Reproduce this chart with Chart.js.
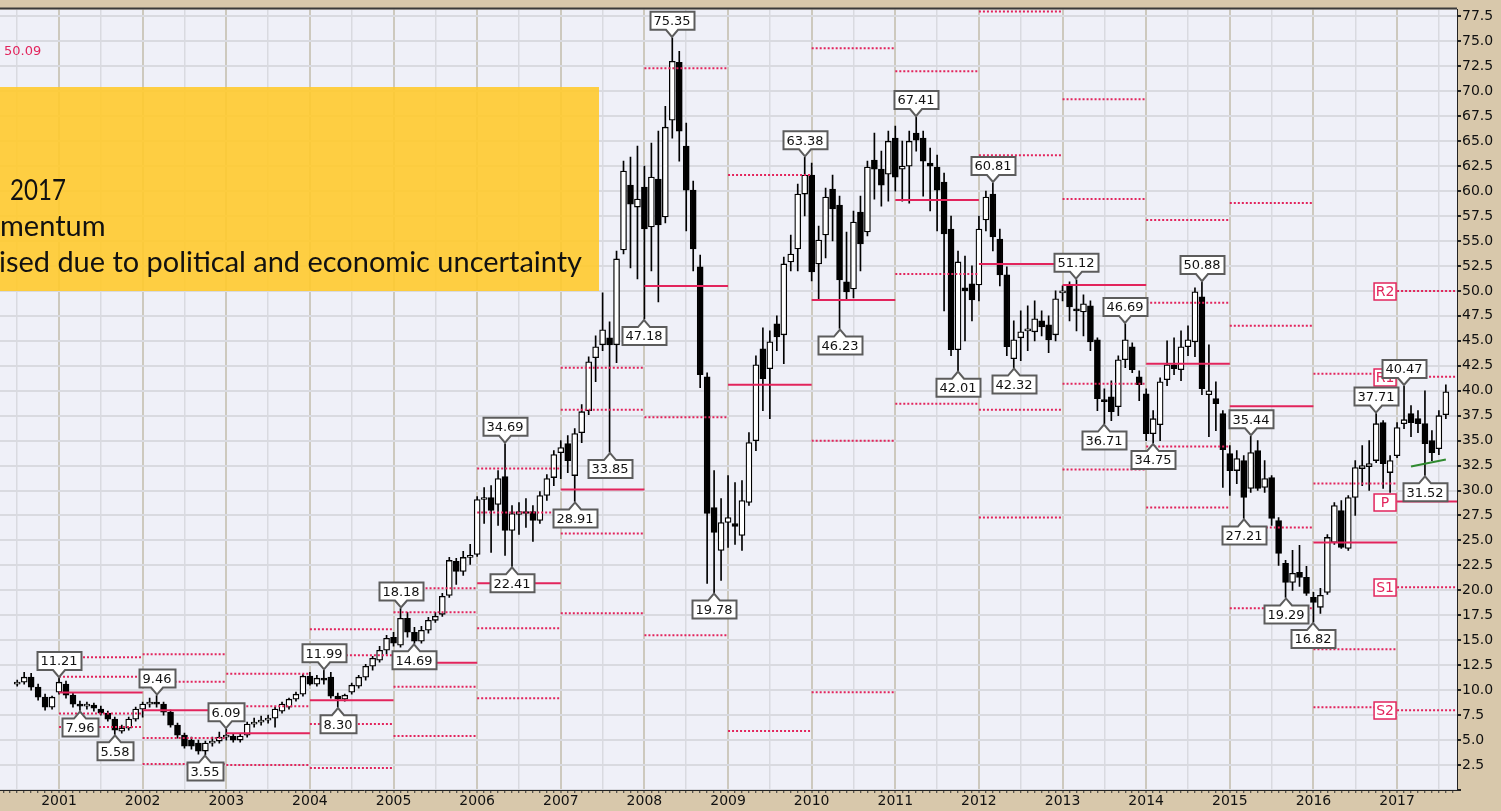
<!DOCTYPE html>
<html>
<head>
<meta charset="utf-8">
<script src="https://cdn.jsdelivr.net/npm/chart.js@4.4.1/dist/chart.umd.min.js"></script>
<style>
  html, body { margin: 0; padding: 0; background: #d8c8ab; }
  #wrap { width: 1501px; height: 811px; }
</style>
</head>
<body>
<div id="wrap"><canvas id="priceChart" width="1501" height="811"></canvas></div>
<script>
// monthly candles, first one is July 2000
const firstYear = 2000;
const firstMonth = 7;

const opens = [
  /* 2000 */ 10.6, 10.8, 11.3, 10.3, 9.3, 8.3,
  /* 2001 */ 9.8, 10.6, 9.5, 8.6, 8.4, 8.5, 8.1, 7.7, 7.1, 5.9, 6.2, 7.1,
  /* 2002 */ 8.1, 8.6, 8.8, 8.6, 7.8, 6.5, 5.5, 5.0, 4.7, 3.9, 4.7, 4.9,
  /* 2003 */ 5.3, 5.4, 5.0, 5.5, 6.6, 6.8, 7.0, 7.2, 7.9, 8.3, 9.1, 9.6,
  /* 2004 */ 11.4, 10.6, 11.2, 11.3, 9.4, 9.1, 9.8, 10.4, 11.3, 12.4, 13.0, 14.0,
  /* 2005 */ 15.3, 14.5, 17.2, 15.8, 14.9, 16.0, 17.0, 17.6, 19.5, 22.9, 21.9, 23.3,
  /* 2006 */ 23.6, 29.1, 29.3, 28.6, 31.4, 26.0, 27.6, 27.8, 27.9, 27.0, 29.5, 31.3,
  /* 2007 */ 33.8, 34.7, 31.5, 35.8, 38.0, 43.3, 44.6, 45.3, 44.6, 54.1, 60.6, 58.4,
  /* 2008 */ 60.4, 56.4, 61.2, 57.4, 67.1, 72.9, 64.5, 60.1, 52.4, 41.4, 28.3, 24.0,
  /* 2009 */ 26.8, 26.7, 25.5, 28.8, 35.0, 44.2, 42.2, 46.7, 45.6, 52.9, 54.2, 59.7,
  /* 2010 */ 61.6, 52.7, 55.6, 60.2, 58.6, 50.9, 50.2, 57.9, 55.9, 63.1, 62.2, 61.7,
  /* 2011 */ 65.3, 62.2, 62.5, 65.8, 65.3, 62.8, 62.4, 60.9, 56.2, 44.1, 50.3, 50.7,
  /* 2012 */ 50.6, 57.1, 59.7, 55.2, 51.6, 43.2, 45.3, 46.0, 45.9, 47.0, 46.6, 45.6,
  /* 2013 */ 49.8, 50.6, 48.2, 47.9, 48.5, 45.1, 39.1, 39.4, 38.4, 43.1, 44.4, 41.4,
  /* 2014 */ 39.7, 35.7, 36.6, 41.1, 42.6, 42.1, 44.4, 44.9, 49.4, 39.6, 39.2, 37.7,
  /* 2015 */ 33.7, 32.0, 33.0, 30.2, 34.0, 30.3, 31.3, 27.0, 22.7, 20.8, 21.8, 21.3,
  /* 2016 */ 19.3, 18.3, 19.8, 24.8, 28.0, 24.2, 29.3, 32.2, 32.4, 33.0, 36.8, 31.8,
  /* 2017 */ 33.5, 36.7, 37.7, 37.2, 36.7, 35.0, 34.2, 37.6
];
const highs = [
  /* 2000 */ 11.0, 11.8, 11.7, 10.6, 9.6, 9.4,
  /* 2001 */ 11.21, 10.9, 9.7, 8.9, 8.8, 8.7, 8.4, 7.9, 7.3, 6.5, 7.3, 8.3,
  /* 2002 */ 8.8, 9.2, 9.46, 8.8, 8.0, 6.7, 5.7, 5.3, 5.0, 4.9, 5.3, 5.8,
  /* 2003 */ 6.09, 5.6, 5.6, 6.8, 7.2, 7.4, 7.5, 8.3, 8.8, 9.2, 9.8, 11.6,
  /* 2004 */ 11.8, 11.5, 11.99, 11.8, 9.7, 9.6, 10.7, 11.5, 12.6, 13.4, 14.4, 15.5,
  /* 2005 */ 15.8, 18.18, 17.8, 16.3, 16.4, 17.3, 17.8, 19.7, 23.3, 23.2, 23.9, 24.6,
  /* 2006 */ 29.4, 30.3, 30.5, 32.0, 34.69, 28.5, 28.8, 29.2, 28.5, 29.9, 31.6, 34.0,
  /* 2007 */ 35.0, 35.5, 36.2, 38.6, 43.4, 45.5, 49.8, 46.9, 54.0, 63.0, 63.4, 64.5,
  /* 2008 */ 62.5, 64.8, 66.0, 68.5, 75.35, 74.0, 66.8, 61.0, 53.6, 41.8, 32.0, 29.2,
  /* 2009 */ 31.5, 30.8, 31.0, 35.8, 43.5, 46.3, 46.0, 47.5, 53.4, 55.6, 60.7, 63.38,
  /* 2010 */ 62.8, 56.5, 60.3, 61.6, 59.5, 55.9, 58.0, 59.5, 63.0, 65.8, 64.0, 66.0,
  /* 2011 */ 66.5, 65.0, 66.0, 67.41, 66.0, 64.3, 63.6, 61.8, 57.5, 54.0, 53.5, 52.5,
  /* 2012 */ 57.5, 60.0, 60.81, 56.2, 52.4, 47.0, 48.0, 48.5, 49.0, 48.0, 47.5, 50.0,
  /* 2013 */ 50.5, 50.9, 51.12, 49.6, 49.0, 45.3, 40.2, 41.0, 43.5, 46.69, 44.8, 42.0,
  /* 2014 */ 40.2, 38.0, 41.3, 45.0, 45.3, 46.0, 46.5, 50.3, 50.88, 44.6, 40.9, 38.0,
  /* 2015 */ 34.5, 34.0, 33.5, 35.44, 35.0, 33.0, 31.5, 27.3, 23.0, 24.0, 24.5, 22.4,
  /* 2016 */ 19.8, 20.2, 25.6, 28.8, 29.0, 29.5, 33.0, 34.5, 35.0, 37.71, 37.0, 33.5,
  /* 2017 */ 36.8, 40.47, 38.5, 38.0, 40.0, 36.0, 38.0, 40.6
];
const lows = [
  /* 2000 */ 10.4, 10.6, 10.0, 9.0, 8.0, 8.1,
  /* 2001 */ 9.6, 9.2, 8.3, 7.96, 8.1, 7.9, 7.5, 6.9, 5.58, 5.7, 6.0, 6.9,
  /* 2002 */ 7.3, 8.3, 8.3, 7.5, 6.3, 5.2, 4.2, 4.1, 3.6, 3.55, 4.4, 4.7,
  /* 2003 */ 5.0, 4.8, 4.8, 5.3, 6.3, 6.5, 6.7, 6.3, 7.7, 8.1, 8.9, 9.4,
  /* 2004 */ 10.5, 10.4, 10.6, 9.2, 8.30, 8.9, 9.6, 10.2, 11.0, 12.0, 12.8, 13.6,
  /* 2005 */ 14.4, 14.3, 15.3, 14.69, 14.7, 15.7, 16.8, 17.4, 19.3, 20.6, 21.5, 22.6,
  /* 2006 */ 23.4, 26.7, 23.8, 26.5, 23.5, 22.41, 25.6, 26.3, 24.9, 26.7, 29.0, 30.5,
  /* 2007 */ 31.2, 31.8, 28.91, 34.8, 37.6, 40.9, 44.0, 33.85, 42.8, 53.7, 52.3, 51.2,
  /* 2008 */ 47.18, 52.0, 48.9, 56.8, 65.3, 63.0, 56.0, 52.0, 40.3, 20.7, 19.78, 21.0,
  /* 2009 */ 24.3, 24.6, 24.0, 28.5, 34.0, 38.0, 37.2, 44.0, 42.7, 52.0, 52.0, 57.5,
  /* 2010 */ 51.0, 49.1, 53.3, 55.0, 46.23, 49.1, 49.3, 52.0, 55.5, 59.2, 58.5, 59.0,
  /* 2011 */ 60.0, 59.0, 58.8, 64.0, 59.5, 58.0, 56.0, 48.0, 43.5, 42.01, 45.0, 47.0,
  /* 2012 */ 49.0, 56.0, 54.0, 50.5, 43.5, 42.32, 43.0, 44.0, 45.0, 45.5, 43.8, 45.0,
  /* 2013 */ 49.0, 47.0, 46.0, 45.5, 44.0, 38.0, 36.71, 37.0, 37.5, 42.3, 41.8, 39.0,
  /* 2014 */ 35.0, 34.75, 35.0, 40.5, 41.6, 41.0, 43.5, 43.4, 39.6, 35.4, 36.0, 30.3,
  /* 2015 */ 29.5, 30.7, 27.21, 29.8, 30.0, 29.8, 26.5, 22.5, 19.29, 20.0, 20.4, 19.5,
  /* 2016 */ 16.82, 17.7, 19.6, 24.6, 24.2, 24.0, 27.5, 30.5, 30.0, 32.8, 30.2, 29.8,
  /* 2017 */ 33.3, 36.2, 35.4, 35.8, 31.52, 33.0, 33.6, 37.2
];
const closes = [
  /* 2000 */ 10.8, 11.3, 10.3, 9.3, 8.3, 9.3,
  /* 2001 */ 10.8, 9.5, 8.6, 8.4, 8.5, 8.2, 7.7, 7.1, 6.0, 6.2, 7.1, 8.1,
  /* 2002 */ 8.6, 8.8, 8.6, 7.8, 6.5, 5.5, 4.4, 4.4, 3.9, 4.7, 4.9, 5.3,
  /* 2003 */ 5.4, 5.0, 5.4, 6.6, 6.8, 7.0, 7.1, 8.1, 8.6, 9.1, 9.6, 11.4,
  /* 2004 */ 10.6, 11.2, 11.0, 9.4, 9.1, 9.5, 10.5, 11.3, 12.4, 13.2, 14.0, 15.2,
  /* 2005 */ 14.7, 17.2, 15.8, 14.9, 16.0, 17.0, 17.4, 19.4, 23.0, 21.9, 23.3, 23.5,
  /* 2006 */ 29.1, 29.3, 28.0, 31.2, 26.0, 27.7, 27.9, 27.7, 27.0, 29.5, 31.2, 33.6,
  /* 2007 */ 34.3, 33.0, 35.7, 37.9, 42.9, 44.4, 46.1, 44.6, 53.2, 62.0, 58.7, 59.2,
  /* 2008 */ 56.2, 61.4, 56.6, 66.4, 73.0, 66.0, 60.1, 54.2, 41.6, 27.7, 25.8, 26.8,
  /* 2009 */ 27.3, 26.4, 29.0, 34.8, 42.6, 41.2, 44.9, 45.4, 52.7, 53.7, 59.7, 61.6,
  /* 2010 */ 51.9, 55.1, 59.4, 58.2, 51.1, 49.9, 56.9, 54.7, 62.4, 62.2, 60.6, 65.0,
  /* 2011 */ 61.4, 62.5, 65.0, 65.1, 63.0, 62.5, 60.1, 55.7, 44.1, 52.9, 50.0, 49.1,
  /* 2012 */ 56.2, 59.4, 55.4, 51.6, 44.4, 45.1, 45.9, 46.2, 47.2, 46.4, 45.1, 49.2,
  /* 2013 */ 50.0, 48.4, 48.0, 48.7, 44.9, 39.2, 38.9, 37.9, 43.1, 45.1, 42.1, 40.6,
  /* 2014 */ 35.7, 37.2, 40.9, 42.6, 42.2, 44.4, 45.1, 49.9, 40.2, 40.0, 38.7, 34.1,
  /* 2015 */ 32.0, 33.2, 29.3, 33.8, 30.2, 31.2, 27.2, 23.7, 20.8, 21.7, 21.3, 19.7,
  /* 2016 */ 18.8, 19.5, 25.3, 28.5, 24.3, 29.3, 32.3, 32.5, 32.7, 36.7, 32.7, 33.0,
  /* 2017 */ 36.3, 37.1, 36.8, 36.7, 34.7, 33.8, 37.5, 39.9
];

// yearly pivot levels
const pivotYears = [2001, 2002, 2003, 2004, 2005, 2006, 2007, 2008, 2009, 2010, 2011, 2012, 2013, 2014, 2015, 2016, 2017];
const pivotR2 = [13.3, 13.6, 11.65, 16.1, 20.2, 32.2, 42.3, null, null, null, null, 78.0, 69.2, 57.1, 58.8, 41.7, 50.0];
const pivotR1 = [11.35, 10.85, 8.4, 13.5, 17.8, 27.8, 38.1, 72.3, 61.6, 74.3, 72.0, 63.6, 59.2, 48.8, 46.5, 30.7, 41.4];
const pivotP  = [9.76, 8.0, 5.68, 9.0, 12.75, 20.7, 30.1, 50.5, 40.6, 49.1, 59.1, 52.7, 50.6, 42.7, 38.45, 24.8, 28.9];
const pivotS1 = [7.67, 5.2, 2.5, 6.6, 10.35, 16.2, 25.7, 37.35, 5.9, 35.0, 51.7, 38.1, 40.7, 34.4, 26.3, 14.1, 20.3];
const pivotS2 = [6.3, 2.6, null, 2.2, 5.4, 9.2, 17.7, 15.5, null, 9.8, 38.7, 27.3, 32.1, 28.3, 18.2, 8.3, 8.0];

// labelled swing highs / lows: [year, month, value]
const highMarks = [
  [2001, 1, 11.21], [2002, 3, 9.46], [2003, 1, 6.09], [2004, 3, 11.99], [2005, 2, 18.18],
  [2006, 5, 34.69], [2008, 5, 75.35], [2009, 12, 63.38], [2011, 4, 67.41], [2012, 3, 60.81],
  [2013, 3, 51.12], [2013, 10, 46.69], [2014, 9, 50.88], [2015, 4, 35.44], [2016, 10, 37.71],
  [2017, 2, 40.47]
];
const lowMarks = [
  [2001, 4, 7.96], [2001, 9, 5.58], [2002, 10, 3.55], [2004, 5, 8.30], [2005, 4, 14.69],
  [2006, 6, 22.41], [2007, 3, 28.91], [2007, 8, 33.85], [2008, 1, 47.18], [2008, 11, 19.78],
  [2010, 5, 46.23], [2011, 10, 42.01], [2012, 6, 42.32], [2013, 7, 36.71], [2014, 2, 34.75],
  [2015, 3, 27.21], [2015, 9, 19.29], [2016, 1, 16.82], [2017, 5, 31.52]
];

// short green trend line
const trendPoints = [[2017, 3, 32.4], [2017, 8, 33.1]];

const yTickStep = 2.5;
const noteLines = ['2017', 'mentum', 'ised due to political and economic uncertainty'];
const cornerValue = '50.09';

const RED = '#E2245C';
const monthIndex = (y, m) => (y - 2000) * 12 + (m - 1);
const X_MIN = 3.53;
const X_MAX = 212.6;
const start = monthIndex(firstYear, firstMonth);
const candleX = opens.map((_, i) => start + i);

function pivotSegments(levelLists) {
  const pts = [];
  levelLists.forEach(levels => {
    pivotYears.forEach((yr, i) => {
      if (levels[i] == null) return;
      const a = monthIndex(yr, 1);
      const b = yr === 2017 ? X_MAX : a + 12;
      pts.push({ x: a, y: levels[i] }, { x: b, y: levels[i] }, { x: b, y: null });
    });
  });
  return pts;
}

const backdrop = {
  id: 'backdrop',
  beforeDraw(chart) {
    const { ctx, chartArea: a } = chart;
    ctx.save();
    ctx.fillStyle = '#D8C8AB';
    ctx.fillRect(0, 0, chart.width, chart.height);
    ctx.fillStyle = '#EFF0F8';
    ctx.fillRect(a.left, a.top, a.right - a.left, a.bottom - a.top);
    ctx.restore();
  },
  afterDraw(chart) {
    const { ctx, chartArea: a } = chart;
    ctx.save();
    ctx.strokeStyle = '#3a3a3a';
    ctx.lineWidth = 2;
    ctx.beginPath();
    ctx.moveTo(0, a.top - 1);
    ctx.lineTo(a.right, a.top - 1);
    ctx.stroke();
    ctx.restore();
  }
};

function bubble(ctx, cx, tipY, text, up) {
  ctx.font = '13px "DejaVu Sans"';
  const w = Math.round(ctx.measureText(text).width) + 7;
  const h = 18, t = 7;
  const left = Math.round(cx - w / 2) + 0.5;
  let top;
  ctx.beginPath();
  if (!up) {
    // box above, pointer down
    const bottom = tipY - t;
    top = bottom - h;
    ctx.moveTo(left, top);
    ctx.lineTo(left + w, top);
    ctx.lineTo(left + w, bottom);
    ctx.lineTo(cx + 6, bottom);
    ctx.lineTo(cx, tipY);
    ctx.lineTo(cx - 6, bottom);
    ctx.lineTo(left, bottom);
  } else {
    top = tipY + t;
    const bottom = top + h;
    ctx.moveTo(left, top);
    ctx.lineTo(cx - 6, top);
    ctx.lineTo(cx, tipY);
    ctx.lineTo(cx + 6, top);
    ctx.lineTo(left + w, top);
    ctx.lineTo(left + w, bottom);
    ctx.lineTo(left, bottom);
  }
  ctx.closePath();
  ctx.fillStyle = '#fff';
  ctx.fill();
  ctx.strokeStyle = '#5c5c5c';
  ctx.lineWidth = 2;
  ctx.stroke();
  ctx.fillStyle = '#111';
  ctx.textAlign = 'center';
  ctx.textBaseline = 'middle';
  ctx.fillText(text, cx, top + h / 2 + 1);
}

const markers = {
  id: 'markers',
  afterDatasetsDraw(chart) {
    const { ctx, scales: { x, y } } = chart;
    ctx.save();

    // pivot names for the current year
    const last = pivotYears.length - 1;
    const names = [['R2', pivotR2[last]], ['R1', pivotR1[last]], ['P', pivotP[last]], ['S1', pivotS1[last]], ['S2', pivotS2[last]]];
    const right = x.getPixelForValue(monthIndex(2017, 1));
    ctx.font = '14px "DejaVu Sans"';
    names.forEach(([n, v]) => {
      const cy = Math.round(y.getPixelForValue(v));
      ctx.fillStyle = '#fff';
      ctx.fillRect(right - 23, cy - 8, 22, 17);
      ctx.strokeStyle = RED;
      ctx.lineWidth = 1.5;
      ctx.strokeRect(right - 23, cy - 8, 22, 17);
      ctx.fillStyle = RED;
      ctx.textAlign = 'center';
      ctx.textBaseline = 'middle';
      ctx.fillText(n, right - 12, cy + 1);
    });

    highMarks.forEach(([yr, m, v]) => {
      bubble(ctx, Math.round(x.getPixelForValue(monthIndex(yr, m))), y.getPixelForValue(v) - 1, v.toFixed(2), false);
    });
    lowMarks.forEach(([yr, m, v]) => {
      bubble(ctx, Math.round(x.getPixelForValue(monthIndex(yr, m))), y.getPixelForValue(v) + 1, v.toFixed(2), true);
    });
    ctx.restore();
  },
  afterDraw(chart) {
    const { ctx } = chart;
    ctx.save();
    ctx.fillStyle = RED;
    ctx.font = '13px "DejaVu Sans"';
    ctx.textBaseline = 'middle';
    ctx.fillText(cornerValue, 4, 52);

    ctx.fillStyle = 'rgba(255, 202, 45, 0.9)';
    ctx.fillRect(0, 87, 599, 204);
    ctx.fillStyle = '#111';
    ctx.font = '29px Lato';
    ctx.textBaseline = 'alphabetic';
    ctx.fillText(noteLines[0], 10, 200, 56);
    ctx.fillText(noteLines[1], 0, 236, 107);
    ctx.fillText(noteLines[2], -1, 272, 583);
    ctx.restore();
  }
};

const ctx = document.getElementById('priceChart').getContext('2d');

new Chart(ctx, {
  type: 'bar',
  data: {
    datasets: [{
      type: 'line',
      label: 'Pivot',
      data: pivotSegments([pivotP]),
      borderColor: RED,
      borderWidth: 2,
      pointRadius: 0,
      spanGaps: false,
      order: 0
    }, {
      type: 'line',
      label: 'Support / Resistance',
      data: pivotSegments([pivotR2, pivotR1, pivotS1, pivotS2]),
      borderColor: RED,
      borderWidth: 2,
      borderDash: [2, 2],
      pointRadius: 0,
      spanGaps: false,
      order: 0
    }, {
      type: 'line',
      label: 'Trend',
      data: trendPoints.map(([yr, m, v]) => ({ x: monthIndex(yr, m), y: v })),
      borderColor: '#2f8a2f',
      borderWidth: 2,
      pointRadius: 0,
      order: 0
    }, {
      label: 'Body',
      data: candleX.map((cx, i) => ({ x: cx, y: [opens[i], closes[i]] })),
      backgroundColor: candleX.map((_, i) => closes[i] >= opens[i] ? '#ffffff' : '#000000'),
      borderColor: '#000',
      borderWidth: 1.3,
      borderSkipped: false,
      barThickness: 6,
      minBarLength: 2,
      grouped: false,
      order: 1
    }, {
      label: 'Range',
      data: candleX.map((cx, i) => ({ x: cx, y: [lows[i], highs[i]] })),
      backgroundColor: '#000',
      borderWidth: 0,
      barThickness: 1,
      grouped: false,
      order: 2
    }]
  },
  options: {
    responsive: false,
    animation: false,
    layout: { padding: { top: 5, left: 0, right: 0, bottom: 0 } },
    plugins: { legend: { display: false }, tooltip: { enabled: false } },
    scales: {
      x: {
        type: 'linear',
        min: X_MIN,
        max: X_MAX,
        offset: false,
        grid: {
          offset: false,
          color: c => c.tick.value % 12 === 0 ? '#CDC9BE' : (c.tick.value % 6 === 0 ? '#D9DAE0' : 'rgba(0,0,0,0)'),
          lineWidth: c => c.tick.value % 12 === 0 ? 2 : 1.5,
          tickColor: '#333',
          tickLength: 3,
          tickWidth: 1
        },
        border: { display: true, color: '#222', width: 1 },
        ticks: {
          stepSize: 1,
          autoSkip: false,
          maxRotation: 0,
          minRotation: 0,
          includeBounds: false,
          padding: 0,
          color: '#111',
          font: { family: 'DejaVu Sans', size: 14 },
          callback: v => (v % 12 === 0 ? String(2000 + v / 12) : '')
        },
        afterFit: s => { s.height = 21; }
      },
      y: {
        position: 'right',
        min: 0,
        max: 78.2,
        grid: { color: '#D9DAE0', lineWidth: 2, tickColor: '#222', tickLength: 4 },
        border: { display: true, color: '#222', width: 1 },
        ticks: {
          stepSize: yTickStep,
          includeBounds: false,
          padding: 1,
          color: '#111',
          font: { family: 'DejaVu Sans', size: 14 },
          callback: v => v === 0 ? '' : v.toFixed(1)
        },
        afterFit: s => { s.width = 44; }
      }
    }
  },
  plugins: [backdrop, markers]
});
</script>
</body>
</html>
